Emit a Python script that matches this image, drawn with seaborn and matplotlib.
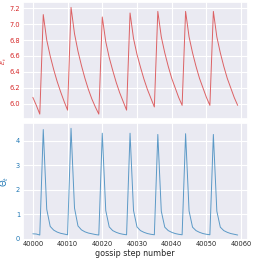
import numpy as np
import pandas as pd
import seaborn as sns
import matplotlib
matplotlib.use("Agg")
import matplotlib.pyplot as plt

# gossip steps shown in the window
steps = np.arange(40000, 40060)

# mean energy per step (top panel)
energy = [6.08, 5.98, 5.87,
          7.12, 6.80, 6.60, 6.43, 6.28, 6.15, 6.03, 5.92,
          7.21, 6.88, 6.66, 6.48, 6.32, 6.18, 6.06, 5.96, 5.87,
          7.09, 6.78, 6.58, 6.42, 6.27, 6.14, 6.03, 5.92,
          7.14, 6.82, 6.62, 6.46, 6.31, 6.18, 6.07, 5.96,
          7.16, 6.84, 6.64, 6.47, 6.32, 6.20, 6.08, 5.98,
          7.16, 6.84, 6.64, 6.47, 6.32, 6.20, 6.08, 5.98,
          7.16, 6.84, 6.64, 6.47, 6.32, 6.20, 6.08, 5.98]

# theta per step (bottom panel)
theta = [0.20, 0.19, 0.15,
         4.45, 1.20, 0.50, 0.35, 0.27, 0.22, 0.19, 0.16,
         4.50, 1.25, 0.52, 0.36, 0.28, 0.23, 0.20, 0.17, 0.15,
         4.30, 1.15, 0.48, 0.33, 0.26, 0.21, 0.18, 0.16,
         4.30, 1.15, 0.48, 0.33, 0.26, 0.21, 0.18, 0.16,
         4.25, 1.12, 0.47, 0.33, 0.26, 0.21, 0.18, 0.16,
         4.28, 1.13, 0.47, 0.33, 0.26, 0.21, 0.18, 0.16,
         4.25, 1.12, 0.47, 0.33, 0.26, 0.21, 0.18, 0.15]

df = pd.DataFrame({"step": steps, "energy": energy, "theta": theta})

sns.set_theme(style="darkgrid")
plt.rcParams['font.family'] = ['DejaVu Sans']

fig, (ax1, ax2) = plt.subplots(2, 1, sharex=True, figsize=(2.54, 2.59), dpi=100)
fig.subplots_adjust(left=0.089, right=0.976, top=0.992, bottom=0.072, hspace=0.03)

red, blue = "tab:red", "tab:blue"

sns.lineplot(data=df, x="step", y="energy", ax=ax1, color=red, alpha=0.7, linewidth=0.7)
sns.lineplot(data=df, x="step", y="theta", ax=ax2, color=blue, alpha=0.7, linewidth=0.7)

ax1.set_ylabel(r"$\bar{E}_t$", color=red, fontsize=4.5)
ax2.set_ylabel(r"$\Theta_t$", color=blue, fontsize=6.2)
ax1.set_xlabel("")
ax2.set_xlabel("gossip step number", fontsize=5.8)
ax1.yaxis.set_label_coords(-0.06, 0.5)
ax2.yaxis.set_label_coords(-0.05, 0.5)
ax2.xaxis.set_label_coords(0.5, -0.07)

ax1.set_yticks([6.0, 6.2, 6.4, 6.6, 6.8, 7.0, 7.2])
ax2.set_yticks([0, 1, 2, 3, 4])
ax2.set_xticks([40000, 40010, 40020, 40030, 40040, 40050, 40060])

ax1.tick_params(axis="both", length=0)
ax2.tick_params(axis="both", length=0)
ax1.tick_params(axis="y", labelsize=4.8, colors=red, pad=1.8)
ax2.tick_params(axis="y", labelsize=4.8, colors=blue, pad=1.8)
ax2.tick_params(axis="x", labelsize=4.8, pad=0.8)
for ax in (ax1, ax2):
    ax.grid(True, linewidth=0.8)

fig.savefig("out.png", dpi=100)
